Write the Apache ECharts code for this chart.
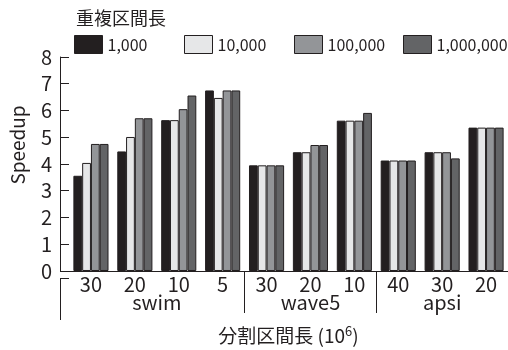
<!DOCTYPE html>
<html>
<head>
<meta charset="utf-8">
<script src="https://cdn.jsdelivr.net/npm/echarts@6/dist/echarts.min.js"></script>
<style>
  html, body { margin: 0; padding: 0; background: #fff; }
  #chart { width: 508px; height: 350px; }
</style>
</head>
<body>
<div id="chart"></div>
<script>
// 分割区間長 per program
const categories = ['30', '20', '10', '5', '30', '20', '10', '40', '30', '20'];
const groups = ['', 'swim', '', '', '', 'wave5', '', '', 'apsi', ''];
const seriesNames = ['1,000', '10,000', '100,000', '1,000,000'];
const s1000 = [3.56, 4.47, 5.64, 6.75, 3.95, 4.44, 5.62, 4.13, 4.44, 5.36];
const s10000 = [4.04, 5.01, 5.64, 6.47, 3.95, 4.44, 5.62, 4.13, 4.44, 5.36];
const s100000 = [4.75, 5.71, 6.05, 6.75, 3.95, 4.71, 5.62, 4.13, 4.44, 5.36];
const s1000000 = [4.75, 5.71, 6.56, 6.75, 3.95, 4.71, 5.91, 4.13, 4.21, 5.36];
const yTicks = [0, 1, 2, 3, 4, 5, 6, 7, 8];

const ink = '#231f20';
const colors = ['#231f20', '#e6e7e8', '#939598', '#636466'];
const font = '"Noto Sans CJK JP", "Noto Sans", sans-serif';

const chart = echarts.init(document.getElementById('chart'), null, { renderer: 'canvas' });

const values = [s1000, s10000, s100000, s1000000];
const series = seriesNames.map((name, i) => ({
  name,
  type: 'bar',
  data: values[i],
  barGap: 0,
  barCategoryGap: '20%',
  itemStyle: { color: colors[i], borderColor: ink, borderWidth: 1 }
}));

// one legend per entry so they sit on a fixed 110px pitch
const legendLeft = [69, 179, 289, 398];
const legends = seriesNames.map((name, i) => ({
  left: legendLeft[i],
  top: 30,
  itemWidth: 28,
  itemHeight: 18,
  icon: 'rect',
  data: [name],
  itemStyle: { borderColor: ink, borderWidth: 1 },
  textStyle: { fontFamily: font, fontSize: 16, color: ink }
}));

const option = {
  animation: false,
  textStyle: { fontFamily: font, color: ink },
  title: {
    text: '重複区間長',
    left: 71,
    top: 4,
    textStyle: { fontFamily: font, fontSize: 18, fontWeight: 'normal', color: ink }
  },
  legend: legends,
  grid: { left: 69, top: 57, width: 443, height: 221 },
  xAxis: [
    {
      type: 'category',
      data: categories,
      position: 'bottom',
      axisLine: { lineStyle: { color: ink, width: 1 } },
      axisTick: { inside: true, length: 6, lineStyle: { color: ink } },
      axisLabel: { fontFamily: font, fontSize: 20, color: ink, margin: 3 },
      name: '分割区間長 (10{sup|6})',
      nameLocation: 'middle',
      nameGap: 54,
      nameTextStyle: {
        fontFamily: font,
        fontSize: 19,
        color: ink,
        rich: { sup: { fontSize: 13, padding: [0, 0, 8, 0], color: ink } }
      }
    },
    {
      type: 'category',
      data: groups,
      position: 'bottom',
      axisLine: { show: false },
      axisTick: {
        show: true,
        length: 42,
        interval: (idx) => idx === 4 || idx === 7,
        lineStyle: { color: ink }
      },
      axisLabel: {
        fontFamily: font,
        fontSize: 20,
        color: ink,
        margin: 21,
        interval: 0,
        formatter: (v) => (v === 'swim' ? '{s|' + v + '}' : v),
        rich: { s: { padding: [0, 0, 0, 44], fontSize: 20, color: ink } }
      }
    }
  ],
  yAxis: {
    type: 'value',
    min: yTicks[0],
    max: yTicks[yTicks.length - 1],
    interval: 1,
    offset: 9,
    name: 'Speedup',
    nameLocation: 'middle',
    nameGap: 33,
    nameTextStyle: { fontFamily: font, fontSize: 19, color: ink, padding: [0, 0, 0, 38] },
    axisLine: { show: true, lineStyle: { color: ink, width: 1 } },
    axisTick: { show: true, inside: true, length: 9, lineStyle: { color: ink } },
    axisLabel: { fontFamily: font, fontSize: 20, color: ink, margin: 8 },
    splitLine: { show: false }
  },
  graphic: [
    { type: 'line', shape: { x1: 60, y1: 278.5, x2: 69, y2: 278.5 }, style: { stroke: ink, lineWidth: 1 } },
    { type: 'line', shape: { x1: 60.5, y1: 278, x2: 60.5, y2: 320 }, style: { stroke: ink, lineWidth: 1 } }
  ],
  series
};

chart.setOption(option);
window.onresize = () => {
  chart.resize();
};
</script>
</body>
</html>
